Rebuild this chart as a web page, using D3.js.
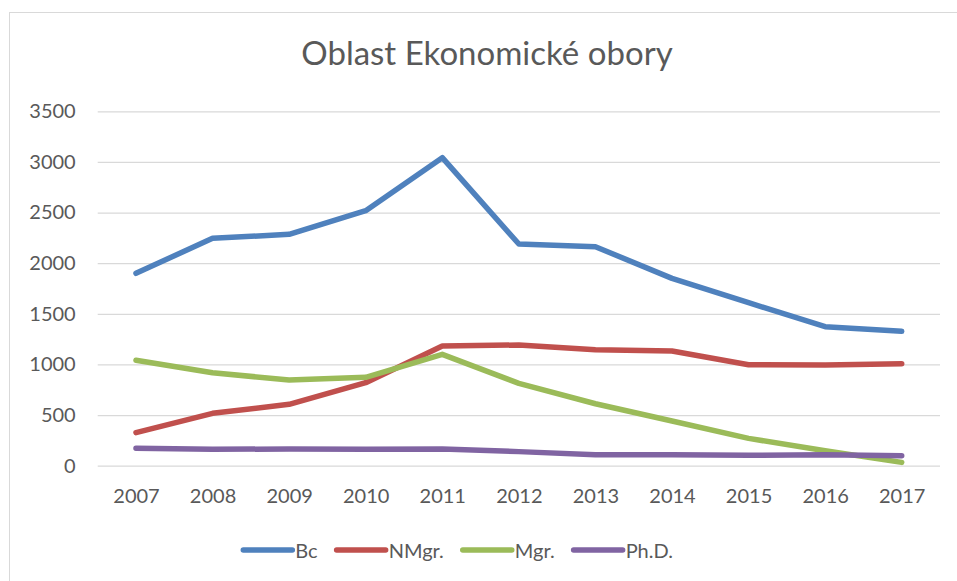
<!DOCTYPE html>
<html>
<head>
<meta charset="utf-8">
<script src="https://cdn.jsdelivr.net/npm/d3@7"></script>
<style>
  body { margin: 0; background: #fff; }
  svg { display: block; }
</style>
</head>
<body>
<div id="chart"></div>
<script>
const years = ["2007", "2008", "2009", "2010", "2011", "2012", "2013", "2014", "2015", "2016", "2017"];
const bc = [1900, 2246, 2285, 2518, 3042, 2189, 2163, 1850, 1610, 1373, 1327];
const nmgr = [326, 517, 606, 820, 1182, 1192, 1146, 1133, 997, 994, 1007];
const mgr = [1041, 918, 846, 873, 1100, 813, 612, 441, 270, 148, 33];
const phd = [172, 162, 165, 162, 165, 139, 109, 109, 102, 109, 99];
const seriesNames = ["Bc", "NMgr.", "Mgr.", "Ph.D."];
const yTicks = [0, 500, 1000, 1500, 2000, 2500, 3000, 3500];
const chartTitle = "Oblast Ekonomické obory";

const width = 957;
const height = 581;
const font = "Lato, 'Open Sans', sans-serif";
const textColor = "#595959";

const series = [
    { name: seriesNames[0], values: bc, color: "#4F81BD" },
    { name: seriesNames[1], values: nmgr, color: "#C0504D" },
    { name: seriesNames[2], values: mgr, color: "#9BBB59" },
    { name: seriesNames[3], values: phd, color: "#8064A2" }
];

const svg = d3.select("#chart")
    .append("svg")
    .attr("width", width)
    .attr("height", height)
    .style("font-family", font);

// chart frame
svg.append("rect")
    .attr("x", 9.5)
    .attr("y", 12.5)
    .attr("width", 960)
    .attr("height", 600)
    .attr("fill", "#fff")
    .attr("stroke", "#d9d9d9")
    .attr("stroke-width", 1);

const x = d3.scalePoint()
    .domain(years)
    .range([97.7, 940])
    .padding(0.5);

const y = d3.scaleLinear()
    .domain([0, 3500])
    .range([465.7, 111.3]);

// gridlines
svg.append("g")
    .attr("transform", "translate(97.7,0)")
    .call(d3.axisLeft(y).tickValues(yTicks).tickSize(-(940 - 97.7)).tickFormat(""))
    .call(g => g.select(".domain").remove())
    .selectAll("line")
    .attr("stroke", "#d9d9d9")
    .attr("stroke-width", 1.3);

// y labels
svg.append("g")
    .attr("transform", "translate(97.7,0)")
    .call(d3.axisLeft(y).tickValues(yTicks).tickSize(0).tickPadding(22).tickFormat(d3.format("d")))
    .call(g => g.select(".domain").remove())
    .selectAll("text")
    .attr("fill", textColor)
    .attr("font-family", font)
    .attr("font-size", "20px");

// x labels
svg.append("g")
    .attr("transform", "translate(0,465.7)")
    .call(d3.axisBottom(x).tickSize(0).tickPadding(23))
    .call(g => g.select(".domain").remove())
    .selectAll("text")
    .attr("fill", textColor)
    .attr("font-family", font)
    .attr("font-size", "20px");

const line = d3.line()
    .x((d, i) => x(years[i]))
    .y(d => y(d));

svg.selectAll(".series")
    .data(series)
    .enter()
    .append("path")
    .attr("class", "series")
    .attr("d", d => line(d.values))
    .attr("fill", "none")
    .attr("stroke", d => d.color)
    .attr("stroke-width", 5.5)
    .attr("stroke-linejoin", "round")
    .attr("stroke-linecap", "round");

svg.append("text")
    .attr("x", 487)
    .attr("y", 65)
    .attr("text-anchor", "middle")
    .attr("fill", textColor)
    .attr("font-size", "33px")
    .text(chartTitle);

// legend
const legend = svg.append("g");
let lx = 243.3;
series.forEach(s => {
    legend.append("line")
        .attr("x1", lx)
        .attr("x2", lx + 49)
        .attr("y1", 550)
        .attr("y2", 550)
        .attr("stroke", s.color)
        .attr("stroke-width", 5.5)
        .attr("stroke-linecap", "round");
    const t = legend.append("text")
        .attr("x", lx + 52)
        .attr("y", 557.5)
        .attr("fill", textColor)
        .attr("font-size", "20px")
        .text(s.name);
    lx += 52 + t.node().getComputedTextLength() + 19;
});
</script>
</body>
</html>
